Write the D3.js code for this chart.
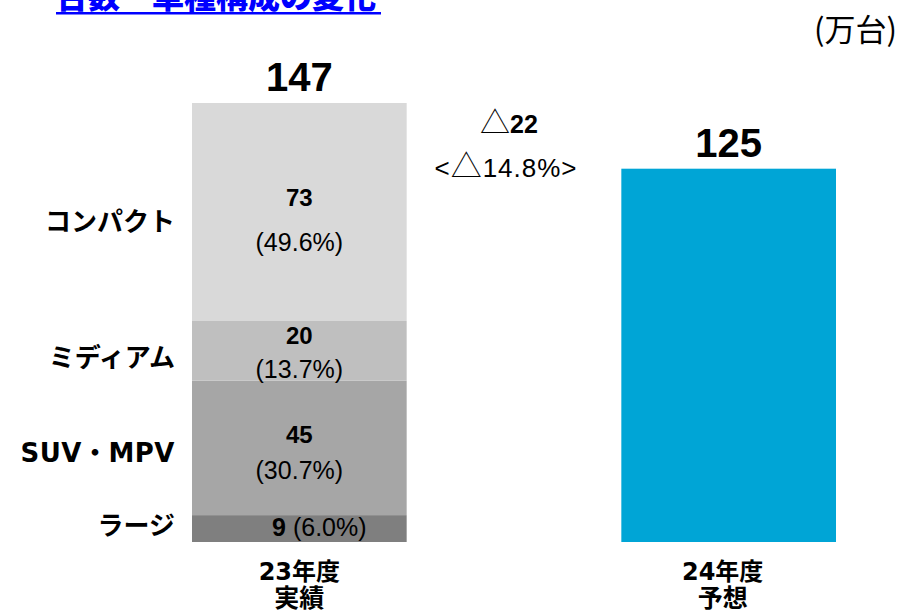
<!DOCTYPE html>
<html>
<head>
<meta charset="utf-8">
<script src="https://cdn.jsdelivr.net/npm/d3@7"></script>
<style>
  body { margin: 0; background: #fff; }
  svg  { display: block; }
  .jp   { font-family: 'Noto Sans CJK JP', sans-serif; }
  .num  { font-family: 'Liberation Sans', Arial, 'Noto Sans CJK JP', sans-serif; }
  .wide { font-family: 'DejaVu Sans', 'Noto Sans CJK JP', sans-serif; }
</style>
</head>
<body>
<div id="chart"></div>
<script>
// data, stacked bottom -> top
const years     = ['23年度', '24年度'],
      yearNotes = ['実績', '予想'],
      segments  = ['ラージ', 'SUV・MPV', 'ミディアム', 'コンパクト'],
      segValues = [9, 45, 20, 73],
      segShares = ['6.0%', '30.7%', '13.7%', '49.6%'],
      totals    = [147, 125],
      change    = ['22', '14.8%']

// look
const segColors = ['#7f7f7f', '#a6a6a6', '#bfbfbf', '#d9d9d9'],
      barColor  = '#00a5d6',
      labelNudge = [-3, 5, 7, 10],                  // left labels vs segment middle
      innerDy    = [[7], [-5, 31], [-7, 27], [-6, 39]] // value / share baselines

const W = 903, H = 613

let svg = d3.select('#chart').append('svg')
      .attr('width', W)
      .attr('height', H),

    x   = d3.scaleBand()
            .domain(years)
            .range([192, 836])
            .paddingInner(0.5)
            .paddingOuter(0),
    y   = d3.scaleLinear()
            .domain([0, d3.max(totals)])
            .range([542, 103]),

    row   = Object.fromEntries(segments.map((s, i) => [s, segValues[i]])),
    stack = d3.stack().keys(segments)([row])

// title, cut at the top like the slide
svg.append('text')
  .attr('class', 'jp')
  .attr('x', 56)
  .attr('y', 8)
  .attr('font-size', 32)
  .attr('font-weight', 900)
  .attr('fill', '#0000ff')
  .text('台数・車種構成の変化')
svg.append('rect')
  .attr('x', 56)
  .attr('y', 12)
  .attr('width', 325)
  .attr('height', 2.5)
  .attr('fill', '#0000ff')

svg.append('text')
  .attr('class', 'jp')
  .attr('x', 897)
  .attr('y', 41)
  .attr('text-anchor', 'end')
  .attr('font-size', 31)
  .text('(万台)')

// stacked bar 23
let x0 = x(years[0]), bw = x.bandwidth(), cx0 = x0 + bw / 2

svg.append('g').selectAll('rect')
  .data(stack)
  .join('rect')
    .attr('x', x0)
    .attr('y', d => y(d[0][1]))
    .attr('width', bw)
    .attr('height', d => y(d[0][0]) - y(d[0][1]))
    .attr('fill', (d, i) => segColors[i])

// bar 24
svg.append('rect')
  .attr('x', x(years[1]))
  .attr('y', y(totals[1]))
  .attr('width', bw)
  .attr('height', y(0) - y(totals[1]))
  .attr('fill', barColor)

// segment labels inside
stack.forEach((d, i) => {
  let mid = (y(d[0][0]) + y(d[0][1])) / 2
  if (innerDy[i].length == 1) {
    let t = svg.append('text')
      .attr('class', 'num')
      .attr('x', cx0 + 20)
      .attr('y', mid + innerDy[i][0])
      .attr('text-anchor', 'middle')
      .attr('font-size', 25)
    t.append('tspan').attr('font-weight', 'bold').text(segValues[i])
    t.append('tspan').text(' (' + segShares[i] + ')')
  } else {
    svg.append('text')
      .attr('class', 'num')
      .attr('x', cx0)
      .attr('y', mid + innerDy[i][0])
      .attr('text-anchor', 'middle')
      .attr('font-size', 24)
      .attr('font-weight', 'bold')
      .text(segValues[i])
    svg.append('text')
      .attr('class', 'num')
      .attr('x', cx0)
      .attr('y', mid + innerDy[i][1])
      .attr('text-anchor', 'middle')
      .attr('font-size', 25)
      .text('(' + segShares[i] + ')')
  }

  // category name on the left
  svg.append('text')
    .attr('class', 'wide')
    .attr('x', 175)
    .attr('y', mid + labelNudge[i])
    .attr('dominant-baseline', 'central')
    .attr('text-anchor', 'end')
    .attr('font-size', 26)
    .attr('font-weight', 'bold')
    .attr('letter-spacing', segments[i].length > 5 ? 0.5 : 0)
    .text(segments[i])
})

// totals on top
svg.append('g').selectAll('text')
  .data(totals)
  .join('text')
    .attr('class', 'num')
    .attr('x', (d, i) => x(years[i]) + bw / 2)
    .attr('y', d => y(d) - 12)
    .attr('text-anchor', 'middle')
    .attr('font-size', 40)
    .attr('font-weight', 'bold')
    .text(d => d)

// change between the bars (triangle a bit larger, like the slide)
let cm = (x0 + bw + x(years[1])) / 2 - 5,
    c1 = svg.append('text')
      .attr('class', 'num')
      .attr('x', cm)
      .attr('y', 133)
      .attr('text-anchor', 'middle')
      .attr('font-size', 25)
c1.append('tspan').attr('class', 'jp').attr('font-weight', 300).attr('font-size', 30).text('△')
c1.append('tspan').attr('font-weight', 'bold').text(change[0])

let c2 = svg.append('text')
  .attr('class', 'num')
  .attr('x', cm - 3)
  .attr('y', 177)
  .attr('text-anchor', 'middle')
  .attr('font-size', 26)
  .attr('letter-spacing', 1)
c2.append('tspan').text('<')
c2.append('tspan').attr('class', 'jp').attr('font-weight', 300).attr('font-size', 31).text('△')
c2.append('tspan').text(change[1] + '>')

// year labels under the bars
years.forEach((yr, i) => {
  let cx = x(yr) + bw / 2 - i * 6
  svg.append('text')
    .attr('class', 'wide')
    .attr('x', cx)
    .attr('y', 580)
    .attr('text-anchor', 'middle')
    .attr('font-size', 24)
    .attr('font-weight', 'bold')
    .text(yr)
  svg.append('text')
    .attr('class', 'jp')
    .attr('x', cx)
    .attr('y', 607)
    .attr('text-anchor', 'middle')
    .attr('font-size', 25)
    .attr('font-weight', 'bold')
    .text(yearNotes[i])
})
</script>
</body>
</html>
